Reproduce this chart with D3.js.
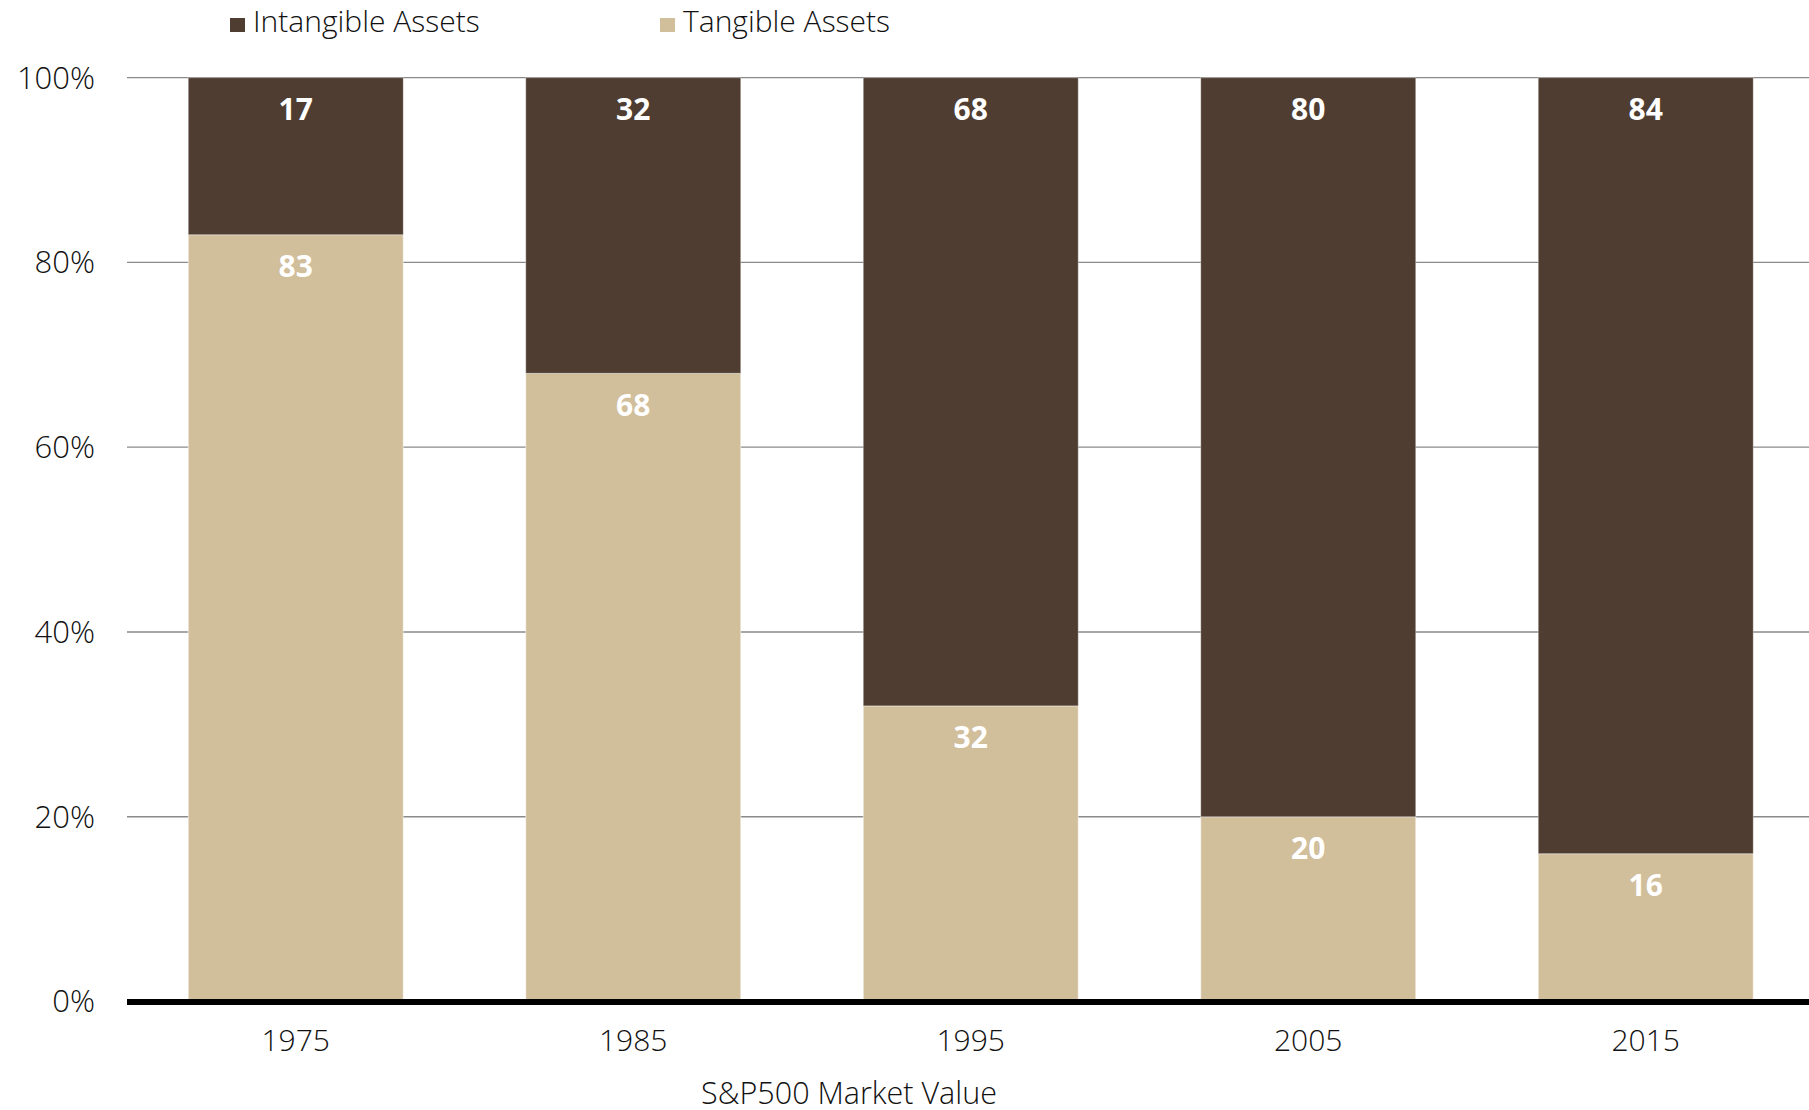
<!DOCTYPE html>
<html>
<head>
<meta charset="utf-8">
<script src="https://cdn.jsdelivr.net/npm/d3@7"></script>
<style>
  body { margin: 0; background: #fff; }
  text { font-family: "Open Sans", "Noto Sans", sans-serif; }
</style>
</head>
<body>
<div id="chart"></div>
<script>
var years = ["1975", "1985", "1995", "2005", "2015"];
var intangible = [17, 32, 68, 80, 84];
var tangible = [83, 68, 32, 20, 16];
var yTicks = [0, 20, 40, 60, 80, 100];
var seriesNames = ["Intangible Assets", "Tangible Assets"];
var colors = ["#4f3d31", "#d1be9b"];

var width = 1809, height = 1110;
var plotLeft = 127, plotTop = 77.7, plotBottom = 1001.5;
var step = 337.5;

var svg = d3.select("#chart").append("svg")
  .attr("width", width)
  .attr("height", height);

var x = d3.scaleBand()
  .domain(years)
  .range([plotLeft, plotLeft + step * years.length])
  .paddingInner(0.363)
  .paddingOuter(0.1815);

var y = d3.scaleLinear()
  .domain([0, 100])
  .range([plotBottom, plotTop]);

// gridlines
svg.selectAll("line.grid")
  .data(yTicks.filter(function(d) { return d > 0; }))
  .enter().append("line")
  .attr("class", "grid")
  .attr("x1", plotLeft).attr("x2", width)
  .attr("y1", function(d) { return y(d); })
  .attr("y2", function(d) { return y(d); })
  .attr("stroke", "#8a8a8a")
  .attr("stroke-width", 1.3);

// y tick labels
svg.selectAll("text.ytick")
  .data(yTicks)
  .enter().append("text")
  .attr("class", "ytick")
  .attr("x", 95)
  .attr("y", function(d) { return y(d); })
  .attr("dy", "0.35em")
  .attr("text-anchor", "end")
  .attr("font-size", 31)
  .attr("font-weight", 300)
  .attr("fill", "#111")
  .text(function(d) { return d + "%"; });

// stacked bars
var rows = years.map(function(yr, i) {
  return { year: yr, intangible: intangible[i], tangible: tangible[i] };
});

// tangible at bottom
svg.selectAll("rect.tan")
  .data(rows)
  .enter().append("rect")
  .attr("class", "tan")
  .attr("x", function(d) { return x(d.year); })
  .attr("width", x.bandwidth())
  .attr("y", function(d) { return y(d.tangible); })
  .attr("height", function(d) { return y(0) - y(d.tangible); })
  .attr("fill", colors[1])
  .attr("stroke", "rgba(255,255,255,0.5)")
  .attr("stroke-width", 1);

svg.selectAll("rect.intan")
  .data(rows)
  .enter().append("rect")
  .attr("class", "intan")
  .attr("x", function(d) { return x(d.year); })
  .attr("width", x.bandwidth())
  .attr("y", function(d) { return y(d.tangible + d.intangible); })
  .attr("height", function(d) { return y(d.tangible) - y(d.tangible + d.intangible); })
  .attr("fill", colors[0])
  .attr("stroke", "rgba(255,255,255,0.35)")
  .attr("stroke-width", 1);

// value labels
svg.selectAll("text.lblIn")
  .data(rows)
  .enter().append("text")
  .attr("class", "lblIn")
  .attr("x", function(d) { return x(d.year) + x.bandwidth() / 2; })
  .attr("y", function(d) { return y(d.tangible + d.intangible) + 32; })
  .attr("dy", "0.35em")
  .attr("text-anchor", "middle")
  .attr("font-size", 30)
  .attr("font-weight", 700)
  .attr("fill", "#fff")
  .text(function(d) { return d.intangible; });

svg.selectAll("text.lblTan")
  .data(rows)
  .enter().append("text")
  .attr("class", "lblTan")
  .attr("x", function(d) { return x(d.year) + x.bandwidth() / 2; })
  .attr("y", function(d) { return y(d.tangible) + 32; })
  .attr("dy", "0.35em")
  .attr("text-anchor", "middle")
  .attr("font-size", 30)
  .attr("font-weight", 700)
  .attr("fill", "#fff")
  .text(function(d) { return d.tangible; });

// baseline
svg.append("line")
  .attr("x1", plotLeft).attr("x2", width)
  .attr("y1", y(0) + 0.5).attr("y2", y(0) + 0.5)
  .attr("stroke", "#000")
  .attr("stroke-width", 6);

// x labels
var xAxis = d3.axisBottom(x).tickSize(0).tickPadding(0);
var gx = svg.append("g")
  .attr("transform", "translate(0," + 1050.5 + ")")
  .call(xAxis);
gx.select(".domain").remove();
gx.selectAll("text")
  .attr("dy", 0)
  .attr("font-size", 30)
  .attr("font-weight", 300)
  .attr("font-family", "'Open Sans', 'Noto Sans', sans-serif")
  .attr("fill", "#111");

// axis title
svg.append("text")
  .attr("x", 849)
  .attr("y", 1103.5)
  .attr("text-anchor", "middle")
  .attr("font-size", 30.5)
  .attr("font-weight", 300)
  .attr("fill", "#111")
  .text("S&P500 Market Value");

// legend
var legendX = [230, 660];
var legend = svg.selectAll("g.leg")
  .data(seriesNames)
  .enter().append("g")
  .attr("class", "leg")
  .attr("transform", function(d, i) { return "translate(" + legendX[i] + ",0)"; });
legend.append("rect")
  .attr("x", 0).attr("y", 18)
  .attr("width", 15).attr("height", 14)
  .attr("fill", function(d, i) { return colors[i]; });
legend.append("text")
  .attr("x", 23).attr("y", 32.3)
  .attr("font-size", 30)
  .attr("font-weight", 300)
  .attr("fill", "#111")
  .text(function(d) { return d; });
</script>
</body>
</html>
